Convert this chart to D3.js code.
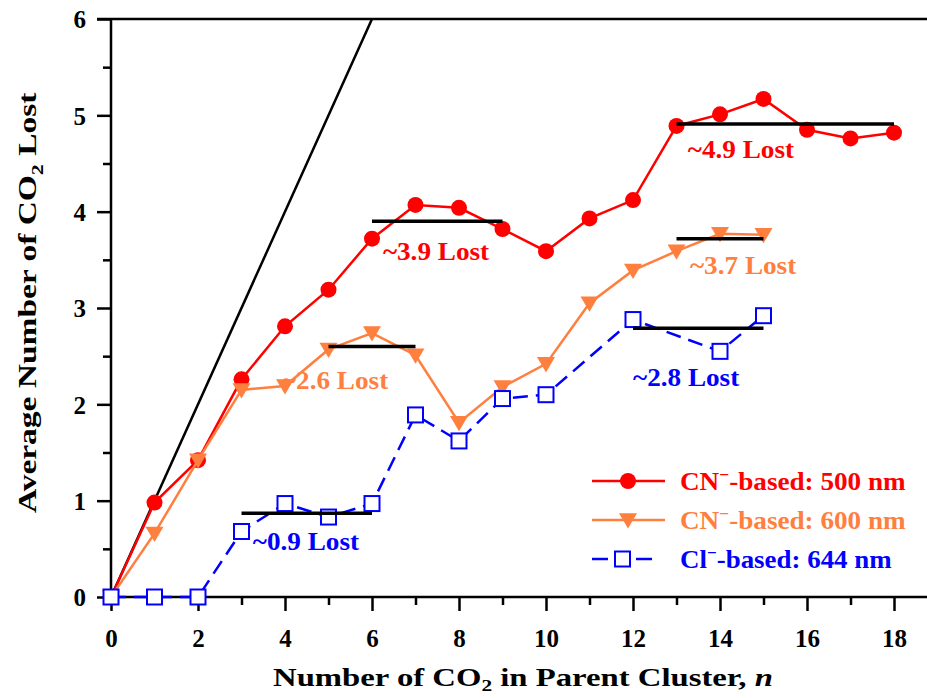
<!DOCTYPE html>
<html>
<head>
<meta charset="utf-8">
<script src="https://cdnjs.cloudflare.com/ajax/libs/d3/7.8.5/d3.min.js"></script>
<style>
  body { margin: 0; background: #fff; }
  text { font-family: "Liberation Serif", "Times New Roman", serif; font-weight: bold; }
</style>
</head>
<body>
<div id="chart"></div>
<script>
// data
var n500 = [0,1,2,3,4,5,6,7,8,9,10,11,12,13,14,15,16,17,18];
var v500 = [0,0.98,1.42,2.26,2.81,3.19,3.72,4.07,4.04,3.82,3.59,3.93,4.12,4.89,5.01,5.17,4.85,4.76,4.82];
var n600 = [0,1,2,3,4,5,6,7,8,9,10,11,12,13,14,15];
var v600 = [0,0.66,1.42,2.15,2.19,2.57,2.74,2.51,1.81,2.18,2.42,3.05,3.39,3.59,3.77,3.76];
var n644 = [0,1,2,3,4,5,6,7,8,9,10,12,14,15];
var v644 = [0,0,0,0.68,0.97,0.83,0.97,1.89,1.62,2.06,2.1,2.88,2.55,2.92];
var plateaus = [
  {x0: 6, x1: 9, y: 3.9, label: "~3.9 Lost", color: "#ff0000", lx: 6.25, ly: 3.50},
  {x0: 13, x1: 18, y: 4.91, label: "~4.9 Lost", color: "#ff0000", lx: 13.26, ly: 4.56},
  {x0: 5, x1: 7, y: 2.6, label: "~2.6 Lost", color: "#ff7f3f", lx: 3.93, ly: 2.16},
  {x0: 13, x1: 15, y: 3.72, label: "~3.7 Lost", color: "#ff7f3f", lx: 13.31, ly: 3.35},
  {x0: 3, x1: 6, y: 0.87, label: "~0.9 Lost", color: "#0000ff", lx: 3.26, ly: 0.49},
  {x0: 12, x1: 15, y: 2.79, label: "~2.8 Lost", color: "#0000ff", lx: 12.0, ly: 2.19}
];
var xTicks = d3.range(0, 19, 1);
var yTicks = d3.range(0, 6.5, 0.5);

var width = 927, height = 698;
var svg = d3.select('#chart').append('svg')
    .attr('width', width)
    .attr('height', height);

var x = d3.scaleLinear().domain([0, 18]).range([111, 894]);
var y = d3.scaleLinear().domain([0, 6]).range([597, 19]);

svg.append('defs').append('clipPath').attr('id', 'plot')
  .append('rect').attr('x', 111).attr('y', 19).attr('width', 816).attr('height', 578);

// text in the picture is wider than plain Times: stretch a text to a given width
var fitText = function(g, w) {
  var bb = g.node().getBBox();
  var t = g.attr('data-t');
  g.attr('transform', t + ' scale(' + (w / bb.width) + ',1)');
};

// axes
var xAxis = d3.axisBottom(x).tickValues(xTicks)
    .tickSize(0).tickPadding(0).tickFormat('');
var gx = svg.append('g').attr('transform', 'translate(0,' + y(0) + ')').call(xAxis);
gx.select('.domain').remove();
gx.selectAll('.tick line')
    .attr('y2', function(d) { return d % 2 === 0 ? 14 : 8; })
    .attr('stroke', '#000').attr('stroke-width', 2.5);
gx.selectAll('.tick text')
    .text(function(d) { return d % 2 === 0 ? d : ''; })
    .attr('y', 50).attr('dy', 0)
    .attr('fill', '#000').style('font-size', '25px')
    .style('font-family', '"Liberation Serif", serif').style('font-weight', 'bold');

var yAxis = d3.axisLeft(y).tickValues(yTicks).tickSize(0).tickPadding(0).tickFormat('');
var gy = svg.append('g').attr('transform', 'translate(' + x(0) + ',0)').call(yAxis);
gy.select('.domain').remove();
gy.selectAll('.tick line')
    .attr('x2', function(d) { return d % 1 === 0 ? -14 : -8; })
    .attr('stroke', '#000').attr('stroke-width', 2.5);
gy.selectAll('.tick text')
    .text(function(d) { return d % 1 === 0 ? d : ''; })
    .attr('x', -25).attr('dy', '0.35em')
    .attr('fill', '#000').style('font-size', '25px')
    .style('font-family', '"Liberation Serif", serif').style('font-weight', 'bold');

// frame lines
svg.append('line').attr('x1', x(0)).attr('x2', width).attr('y1', y(0)).attr('y2', y(0))
    .attr('stroke', '#000').attr('stroke-width', 2.5);
svg.append('line').attr('x1', x(0)).attr('x2', x(0)).attr('y1', y(0) + 1).attr('y2', y(6) - 1)
    .attr('stroke', '#000').attr('stroke-width', 2.5);
svg.append('line').attr('x1', x(0) - 14).attr('x2', width).attr('y1', y(6)).attr('y2', y(6))
    .attr('stroke', '#000').attr('stroke-width', 2.5);

// axis titles
var gxt = svg.append('g').attr('data-t', 'translate(273,686)');
var xt = gxt.append('text').style('font-size', '26px').attr('fill', '#000');
xt.append('tspan').text('Number of CO');
xt.append('tspan').text('2').attr('dy', 5).style('font-size', '17px');
xt.append('tspan').text(' in Parent Cluster, ').attr('dy', -5);
xt.append('tspan').text('n').style('font-style', 'italic');
fitText(gxt, 500);

var gyt = svg.append('g').attr('data-t', 'translate(36,513) rotate(-90)');
var yt = gyt.append('text').style('font-size', '26px').attr('fill', '#000');
yt.append('tspan').text('Average Number of CO');
yt.append('tspan').text('2').attr('dy', 7).style('font-size', '17px');
yt.append('tspan').text(' Lost').attr('dy', -7);
fitText(gyt, 421);

var plot = svg.append('g').attr('clip-path', 'url(#plot)');

// y = x reference
plot.append('line')
    .attr('x1', x(0)).attr('y1', y(0)).attr('x2', x(6.2)).attr('y2', y(6.2))
    .attr('stroke', '#000').attr('stroke-width', 2.5);

var line = d3.line()
    .x(function(d) { return x(d[0]); })
    .y(function(d) { return y(d[1]); });

var zip = function(a, b) { return a.map(function(d, i) { return [d, b[i]]; }); };
var d500 = zip(n500, v500), d600 = zip(n600, v600), d644 = zip(n644, v644);

var tri = function(cx, cy, s) {
  return 'M' + (cx - s) + ',' + (cy - s * 0.75) + 'L' + (cx + s) + ',' + (cy - s * 0.75) +
    'L' + cx + ',' + (cy + s * 0.95) + 'Z';
};

// red 500 nm
svg.append('path').datum(d500).attr('d', line)
    .attr('fill', 'none').attr('stroke', '#ff0000').attr('stroke-width', 2.5);
svg.append('g').selectAll('circle').data(d500).enter().append('circle')
    .attr('cx', function(d) { return x(d[0]); })
    .attr('cy', function(d) { return y(d[1]); })
    .attr('r', 8).attr('fill', '#ff0000');

// orange 600 nm
svg.append('path').datum(d600).attr('d', line)
    .attr('fill', 'none').attr('stroke', '#ff7f3f').attr('stroke-width', 2.5);
svg.append('g').selectAll('path').data(d600).enter().append('path')
    .attr('d', function(d) { return tri(x(d[0]), y(d[1]), 9); })
    .attr('fill', '#ff7f3f');

// blue 644 nm
svg.append('path').datum(d644).attr('d', line)
    .attr('fill', 'none').attr('stroke', '#0000ff').attr('stroke-width', 2.5)
    .attr('stroke-dasharray', '15,8');
svg.append('g').selectAll('rect').data(d644).enter().append('rect')
    .attr('x', function(d) { return x(d[0]) - 7.5; })
    .attr('y', function(d) { return y(d[1]) - 7.5; })
    .attr('width', 15).attr('height', 15)
    .attr('fill', '#fff').attr('stroke', '#0000ff').attr('stroke-width', 2);

// plateau bars and labels
plateaus.forEach(function(p) {
  svg.append('line')
      .attr('x1', x(p.x0)).attr('x2', x(p.x1))
      .attr('y1', y(p.y)).attr('y2', y(p.y))
      .attr('stroke', '#000').attr('stroke-width', 3.5);
  var g = svg.append('g').attr('data-t', 'translate(' + x(p.lx) + ',' + y(p.ly) + ')');
  g.append('text').attr('fill', p.color).style('font-size', '25px').text(p.label);
  fitText(g, 107);
});

// legend
var legend = [
  {name: 'CN', sup: '\u2212', rest: '-based: 500 nm', color: '#ff0000', mark: 'circle', w: 226},
  {name: 'CN', sup: '\u2212', rest: '-based: 600 nm', color: '#ff7f3f', mark: 'tri', w: 226},
  {name: 'Cl', sup: '\u2212', rest: '-based: 644 nm', color: '#0000ff', mark: 'square', w: 212}
];
legend.forEach(function(l, i) {
  var ly = 481 + i * 39;
  var g = svg.append('g');
  if (l.mark === 'square') {
    g.append('line').attr('x1', 592).attr('x2', 608).attr('y1', ly).attr('y2', ly)
        .attr('stroke', l.color).attr('stroke-width', 2.5);
    g.append('line').attr('x1', 636).attr('x2', 652).attr('y1', ly).attr('y2', ly)
        .attr('stroke', l.color).attr('stroke-width', 2.5);
    g.append('rect').attr('x', 615).attr('y', ly - 7.5).attr('width', 15).attr('height', 15)
        .attr('fill', '#fff').attr('stroke', l.color).attr('stroke-width', 2);
  } else {
    g.append('line').attr('x1', 592).attr('x2', 665).attr('y1', ly).attr('y2', ly)
        .attr('stroke', l.color).attr('stroke-width', 2.5);
    if (l.mark === 'circle') {
      g.append('circle').attr('cx', 628).attr('cy', ly).attr('r', 8).attr('fill', l.color);
    } else {
      g.append('path').attr('d', tri(628, ly, 9)).attr('fill', l.color);
    }
  }
  var gt = svg.append('g').attr('data-t', 'translate(680,' + (ly + 9) + ')');
  var t = gt.append('text').attr('fill', l.color).style('font-size', '25px');
  t.append('tspan').text(l.name);
  t.append('tspan').text(l.sup).attr('dy', -10).style('font-size', '16px');
  t.append('tspan').text(l.rest).attr('dy', 10);
  fitText(gt, l.w);
});
</script>
</body>
</html>
